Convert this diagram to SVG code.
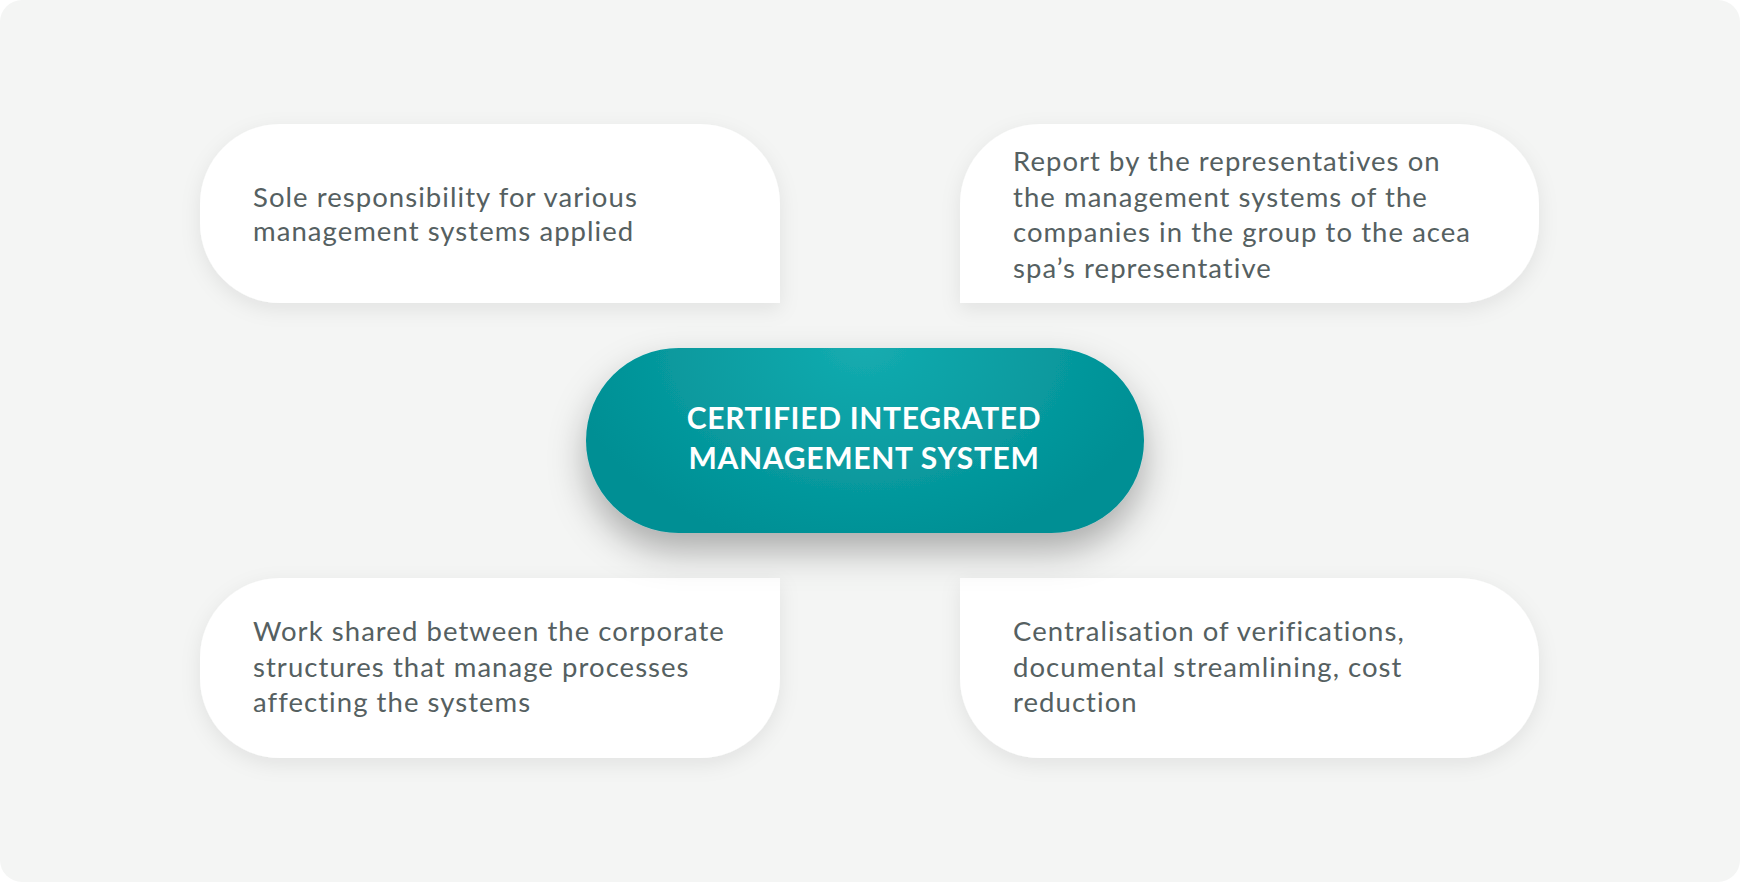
<svg xmlns="http://www.w3.org/2000/svg" width="1740" height="882" viewBox="0 0 1740 882">
<style>
.card{fill:#ffffff;filter:url(#sh);}
.txt{font-family:Lato,"Open Sans","Liberation Sans",sans-serif;font-size:27.5px;letter-spacing:1.05px;fill:#556061;}
.title{font-family:Lato,"Open Sans","Liberation Sans",sans-serif;font-size:30px;font-weight:bold;letter-spacing:0.7px;fill:#ffffff;text-anchor:middle;}
</style>
<defs>
<filter id="sh" x="-20%" y="-30%" width="140%" height="170%">
<feDropShadow dx="0" dy="6" stdDeviation="10" flood-color="#000" flood-opacity="0.08"/>
</filter>
<filter id="sh2" x="-30%" y="-50%" width="160%" height="220%">
<feDropShadow dx="0" dy="18" stdDeviation="18" flood-color="#000" flood-opacity="0.3"/>
</filter>
<radialGradient id="tg" cx="864" cy="345" r="300" gradientUnits="userSpaceOnUse" gradientTransform="translate(864 345) scale(1 0.7) translate(-864 -345)">
<stop offset="0" stop-color="#14acb0"/>
<stop offset="1" stop-color="#008f94"/>
</radialGradient>
</defs>
<rect x="0" y="0" width="1740" height="882" rx="22" fill="#f4f5f4"/>
<g id="connectors"></g>
<g id="node-tl">
<path class="card" d="M280,124 H700 A80,80 0 0 1 780,204 V303 H280 A80,80 0 0 1 200,223 V204 A80,80 0 0 1 280,124 Z"/>
<text class="txt" x="253" y="207">Sole responsibility for various</text>
<text class="txt" x="253" y="241">management systems applied</text>
</g>
<g id="node-tr">
<path class="card" d="M1040,124 H1459 A80,80 0 0 1 1539,204 V223 A80,80 0 0 1 1459,303 H960 V204 A80,80 0 0 1 1040,124 Z"/>
<text class="txt" x="1013" y="171">Report by the representatives on</text>
<text class="txt" x="1013" y="206.5">the management systems of the</text>
<text class="txt" x="1013" y="242">companies in the group to the acea</text>
<text class="txt" x="1013" y="277.5">spa’s representative</text>
</g>
<g id="node-bl">
<path class="card" d="M280,578 H780 V678 A80,80 0 0 1 700,758 H280 A80,80 0 0 1 200,678 V658 A80,80 0 0 1 280,578 Z"/>
<text class="txt" x="253" y="641">Work shared between the corporate</text>
<text class="txt" x="253" y="677">structures that manage processes</text>
<text class="txt" x="253" y="712">affecting the systems</text>
</g>
<g id="node-br">
<path class="card" d="M960,578 H1459 A80,80 0 0 1 1539,658 V678 A80,80 0 0 1 1459,758 H1040 A80,80 0 0 1 960,678 Z"/>
<text class="txt" x="1013" y="641">Centralisation of verifications,</text>
<text class="txt" x="1013" y="677">documental streamlining, cost</text>
<text class="txt" x="1013" y="712">reduction</text>
</g>
<g id="node-center">
<rect x="586" y="348" width="558" height="185" rx="92.5" fill="url(#tg)" filter="url(#sh2)"/>
<text class="title" x="864" y="429">CERTIFIED INTEGRATED</text>
<text class="title" x="864" y="469">MANAGEMENT SYSTEM</text>
</g>
</svg>
